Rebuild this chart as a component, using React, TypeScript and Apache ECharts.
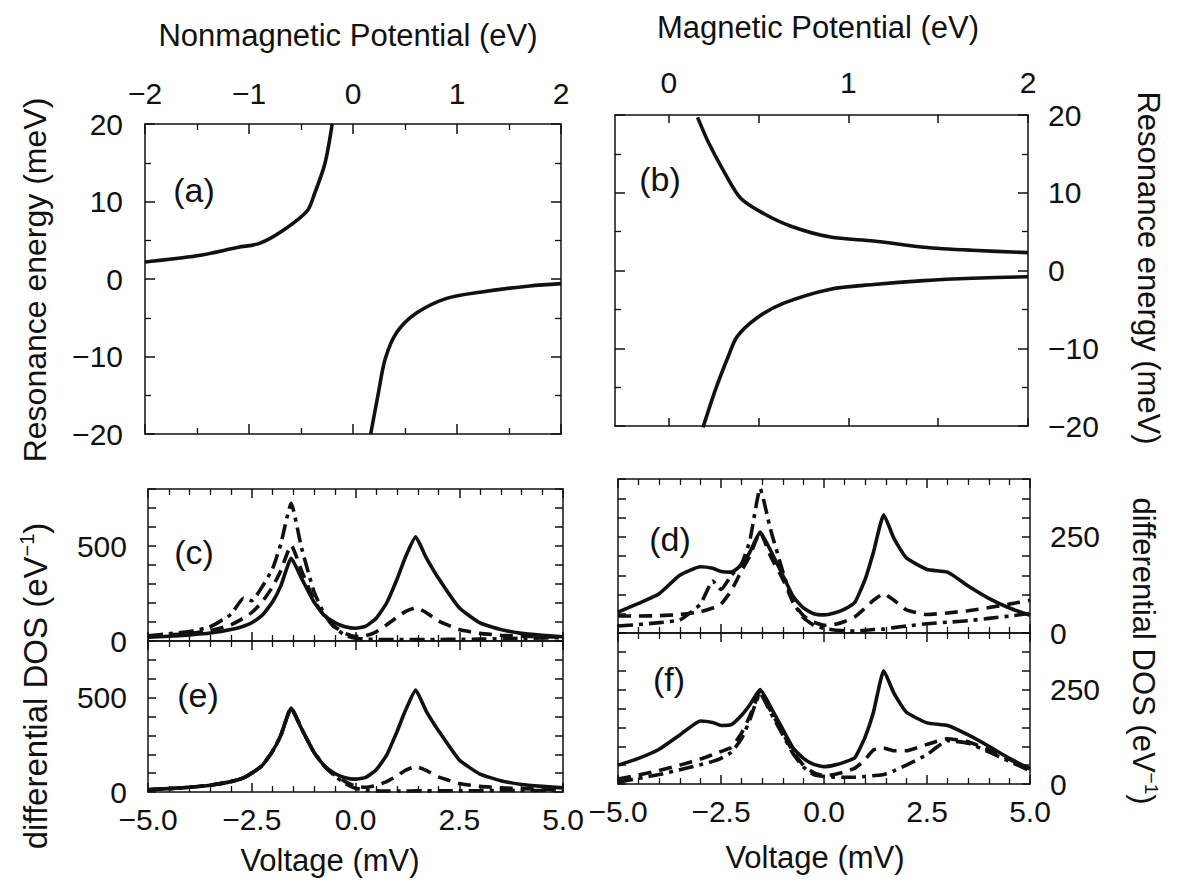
import React, { useEffect, useRef } from "react";
import * as echarts from "echarts";

// ---------- data ----------
// (a) nonmagnetic potential (eV) vs resonance energy (meV)
const A_UP_X = [-2, -1.5, -1.1, -0.9, -0.67, -0.44, -0.37, -0.27, -0.2];
const A_UP_Y = [2.2, 3.0, 4.1, 4.6, 6.3, 8.8, 11.0, 14.9, 20];
const A_LO_X = [0.17, 0.24, 0.31, 0.42, 0.61, 0.9, 1.22, 1.7, 2.0];
const A_LO_Y = [-20, -15, -10.3, -6.9, -4.4, -2.5, -1.7, -0.9, -0.6];
// (b) magnetic potential (eV) vs resonance energy (meV)
const B_UP_X = [0.16, 0.22, 0.31, 0.4, 0.53, 0.68, 0.9, 1.14, 1.42, 1.69, 2.0];
const B_UP_Y = [19.7, 16.5, 12.6, 9.3, 7.3, 5.7, 4.3, 3.8, 3.0, 2.6, 2.3];
const B_LO_X = [0.19, 0.26, 0.33, 0.38, 0.49, 0.64, 0.9, 1.14, 1.42, 1.69, 2.0];
const B_LO_Y = [-20.2, -15.3, -11.1, -8.5, -6.1, -4.2, -2.4, -1.8, -1.3, -1.0, -0.8];

// voltage grid (mV) for the differential DOS panels
const V = [-5, -4.5, -4, -3.5, -3, -2.7, -2.5, -2.25, -2, -1.8, -1.55, -1.3, -1, -0.75, -0.5, -0.25, 0, 0.25, 0.5, 0.75, 1, 1.2, 1.45, 1.7, 2, 2.5, 3, 3.5, 4, 4.5, 5];
// (c)
const C_SOLID = [20, 25, 32, 42, 60, 78, 96, 135, 205, 290, 435, 330, 205, 135, 97, 75, 67, 78, 120, 200, 325, 440, 548, 440, 330, 175, 95, 60, 40, 30, 22];
const C_DASH = [25, 32, 40, 55, 85, 120, 150, 205, 285, 370, 505, 370, 215, 130, 75, 40, 25, 28, 48, 85, 125, 155, 175, 150, 105, 60, 40, 30, 25, 22, 20];
const C_DASHDOT = [28, 38, 50, 75, 140, 225, 212, 285, 380, 510, 725, 490, 260, 140, 70, 30, 15, 10, 8, 7, 7, 7, 8, 8, 8, 9, 10, 12, 14, 16, 18];
// (e)
const E_SOLID = [12, 18, 25, 36, 55, 75, 100, 140, 215, 300, 445, 335, 210, 138, 98, 76, 68, 78, 118, 195, 320, 430, 540, 430, 325, 170, 95, 60, 40, 30, 22];
const E_DASH = [12, 18, 25, 36, 55, 75, 100, 140, 215, 300, 445, 335, 210, 138, 90, 55, 30, 25, 35, 55, 85, 115, 135, 115, 80, 45, 30, 22, 18, 15, 12];
const E_DASHDOT = [12, 18, 25, 36, 55, 75, 100, 140, 215, 300, 445, 335, 210, 138, 85, 45, 20, 10, 6, 5, 5, 5, 6, 6, 6, 7, 7, 8, 8, 8, 9];
// (d)
const D_SOLID = [54, 77, 102, 150, 172, 168, 160, 158, 177, 210, 262, 215, 150, 95, 65, 50, 47, 52, 62, 80, 140, 210, 307, 245, 195, 165, 158, 122, 90, 65, 46];
const D_DASH = [44, 44, 45, 48, 55, 65, 75, 110, 162, 200, 262, 200, 140, 80, 45, 28, 20, 22, 30, 42, 65, 85, 102, 85, 60, 48, 52, 58, 66, 75, 85];
const D_DASHDOT = [18, 22, 27, 34, 75, 135, 113, 150, 180, 240, 375, 270, 160, 80, 40, 20, 12, 8, 6, 5, 7, 9, 10, 14, 18, 24, 28, 32, 38, 44, 51];
// (f)
const F_SOLID = [50, 68, 92, 130, 167, 163, 155, 157, 182, 210, 250, 205, 145, 95, 68, 52, 46, 50, 58, 70, 125, 190, 300, 240, 190, 162, 155, 130, 100, 68, 40];
const F_DASH = [13, 24, 36, 50, 66, 78, 86, 97, 135, 180, 242, 195, 135, 85, 50, 30, 22, 25, 32, 42, 65, 90, 95, 88, 88, 105, 120, 112, 90, 65, 40];
const F_DASHDOT = [5, 15, 25, 38, 51, 60, 68, 84, 120, 170, 240, 190, 130, 80, 45, 25, 20, 18, 18, 18, 20, 22, 25, 35, 50, 78, 115, 108, 85, 60, 35];

// tick label lists
const B_TOP_LABELS = [0, 1, 2];
const B_TOP_TICKS = [0, 0.5, 1, 1.5, 2];
const CE_Y_LABELS = [0, 500];
const DF_Y_LABELS = [0, 250];

// ---------- styling ----------
const FONT = '"Liberation Sans", Arial, Helvetica, sans-serif';
const FS = 30;
const INK = "#111";
const LW = 3.6;
const DASH = [13, 8];
const DASHDOT = [15, 6, 4, 6];

const minus = (s: string) => s.replace("-", "\u2212");

function pairs(xs: number[], ys: number[]) {
  return xs.map((x, i) => [x, ys[i]]);
}

function axisBase(extra: any) {
  const base: any = {
    type: "value",
    axisLine: { show: true, onZero: false, lineStyle: { color: INK, width: 1.5 } },
    axisTick: { show: true, inside: true, length: 10, lineStyle: { color: INK, width: 1.5 } },
    minorTick: { show: false },
    splitLine: { show: false },
    minorSplitLine: { show: false },
    axisLabel: { show: false, color: INK, fontFamily: FONT, fontSize: FS },
  };
  const out: any = { ...base, ...extra };
  out.axisLine = { ...base.axisLine, ...(extra.axisLine || {}) };
  out.axisTick = { ...base.axisTick, ...(extra.axisTick || {}) };
  out.axisLabel = { ...base.axisLabel, ...(extra.axisLabel || {}) };
  return out;
}

function minor(n: number) {
  return { show: true, splitNumber: n, length: 6, lineStyle: { color: INK, width: 1.3 } };
}

function lineSeries(g: number, data: number[][], type: any, smooth: number | boolean) {
  return {
    type: "line",
    xAxisIndex: 2 * g,
    yAxisIndex: 2 * g,
    data,
    showSymbol: false,
    symbol: "none",
    smooth,
    clip: true,
    lineStyle: { color: INK, width: LW, type, cap: "butt", join: "round" },
    silent: true,
  };
}

export default function App() {
  const ref = useRef<HTMLDivElement>(null);
  useEffect(() => {
    const chart = echarts.init(ref.current!, null, { renderer: "svg" });

    const grids = [
      { left: 145, top: 124, width: 416, height: 310 }, // a
      { left: 615, top: 115, width: 413, height: 311 }, // b
      { left: 148, top: 489, width: 415, height: 152 }, // c
      { left: 618, top: 479, width: 412, height: 154 }, // d
      { left: 148, top: 641, width: 415, height: 151 }, // e
      { left: 618, top: 633, width: 412, height: 151 }, // f
    ];

    const xAxes: any[] = [];
    const yAxes: any[] = [];

    // (a)
    xAxes.push(axisBase({ gridIndex: 0, position: "bottom", min: -2, max: 2, interval: 1, minorTick: minor(2) }));
    xAxes.push(
      axisBase({
        gridIndex: 0, position: "top", min: -2, max: 2, interval: 1, minorTick: minor(2),
        axisLabel: { show: true, margin: 16, formatter: (v: number) => minus(String(v)) },
      })
    );
    yAxes.push(
      axisBase({
        gridIndex: 0, position: "left", min: -20, max: 20, interval: 10, minorTick: minor(2),
        axisLabel: { show: true, margin: 22, formatter: (v: number) => minus(String(v)) },
      })
    );
    yAxes.push(axisBase({ gridIndex: 0, position: "right", min: -20, max: 20, interval: 10, minorTick: minor(2) }));

    // (b)
    xAxes.push(
      axisBase({
        gridIndex: 1, position: "bottom", min: -0.3, max: 2,
        axisTick: { customValues: B_TOP_TICKS, length: 8 },
      })
    );
    xAxes.push(
      axisBase({
        gridIndex: 1, position: "top", min: -0.3, max: 2,
        axisTick: { customValues: B_TOP_TICKS, length: 8 },
        axisLabel: { show: true, margin: 18, customValues: B_TOP_LABELS, formatter: (v: number) => String(v) },
      })
    );
    yAxes.push(axisBase({ gridIndex: 1, position: "left", min: -20, max: 20, interval: 10, minorTick: minor(2) }));
    yAxes.push(
      axisBase({
        gridIndex: 1, position: "right", min: -20, max: 20, interval: 10, minorTick: minor(2),
        axisLabel: { show: true, margin: 20, formatter: (v: number) => minus(String(v)) },
      })
    );

    // (c), (d), (e), (f)
    const dosPanels = [
      { g: 2, ymax: 800, yint: 100, labels: CE_Y_LABELS, side: "left", xlab: false },
      { g: 3, ymax: 400, yint: 50, labels: DF_Y_LABELS, side: "right", xlab: false },
      { g: 4, ymax: 800, yint: 100, labels: CE_Y_LABELS, side: "left", xlab: true },
      { g: 5, ymax: 400, yint: 50, labels: DF_Y_LABELS, side: "right", xlab: true },
    ];
    dosPanels.forEach((p) => {
      xAxes.push(
        axisBase({
          gridIndex: p.g, position: "bottom", min: -5, max: 5, interval: 2.5, minorTick: minor(5),
          axisTick: { length: 9 },
          axisLabel: {
            show: p.xlab, margin: 12,
            formatter: (v: number) => minus(v.toFixed(1)),
          },
        })
      );
      xAxes.push(
        axisBase({ gridIndex: p.g, position: "top", min: -5, max: 5, interval: 2.5, minorTick: minor(5), axisTick: { length: 9 } })
      );
      const fmt = (v: number) => (p.labels.indexOf(v) >= 0 ? String(v) : "");
      yAxes.push(
        axisBase({
          gridIndex: p.g, position: "left", min: 0, max: p.ymax, interval: p.yint, axisTick: { length: 8 },
          axisLabel: { show: p.side === "left", margin: 21, formatter: fmt },
        })
      );
      yAxes.push(
        axisBase({
          gridIndex: p.g, position: "right", min: 0, max: p.ymax, interval: p.yint, axisTick: { length: 8 },
          axisLabel: { show: p.side === "right", margin: 20, formatter: fmt },
        })
      );
    });

    const S1 = 0.3;
    const S2 = 0.15;
    const series: any[] = [
      lineSeries(0, pairs(A_UP_X, A_UP_Y), "solid", S1),
      lineSeries(0, pairs(A_LO_X, A_LO_Y), "solid", S1),
      lineSeries(1, pairs(B_UP_X, B_UP_Y), "solid", S1),
      lineSeries(1, pairs(B_LO_X, B_LO_Y), "solid", S1),
      lineSeries(2, pairs(V, C_DASHDOT), DASHDOT, S2),
      lineSeries(2, pairs(V, C_DASH), DASH, S2),
      lineSeries(2, pairs(V, C_SOLID), "solid", S2),
      lineSeries(3, pairs(V, D_DASHDOT), DASHDOT, S2),
      lineSeries(3, pairs(V, D_DASH), DASH, S2),
      lineSeries(3, pairs(V, D_SOLID), "solid", S2),
      lineSeries(4, pairs(V, E_DASHDOT), DASHDOT, S2),
      lineSeries(4, pairs(V, E_DASH), DASH, S2),
      lineSeries(4, pairs(V, E_SOLID), "solid", S2),
      lineSeries(5, pairs(V, F_DASHDOT), DASHDOT, S2),
      lineSeries(5, pairs(V, F_DASH), DASH, S2),
      lineSeries(5, pairs(V, F_SOLID), "solid", S2),
    ];

    const txt = (x: number, y: number, text: string, size: number, rotation = 0, extra: any = {}) => ({
      type: "text",
      x,
      y,
      rotation,
      silent: true,
      style: {
        text,
        fill: INK,
        font: `${size}px ${FONT}`,
        textAlign: "center",
        textVerticalAlign: "middle",
        ...extra,
      },
    });

    const supRich = (fs: number) => ({
      a: { fontSize: fs, fontFamily: FONT, fill: INK, color: INK },
      s: { fontSize: Math.round(fs * 0.62), fontFamily: FONT, fill: INK, color: INK, padding: [0, 0, 16, 0] },
    });

    const graphic: any[] = [
      txt(348, 35, "Nonmagnetic Potential (eV)", 31),
      txt(818, 27, "Magnetic Potential (eV)", 31),
      txt(35, 280, "Resonance energy (meV)", 32, Math.PI / 2),
      txt(1148, 268, "Resonance energy (meV)", 31, -Math.PI / 2),
      txt(35, 686, "{a|differential DOS (eV}{s|\u22121}{a|)}", 33, Math.PI / 2, { rich: supRich(33) }),
      txt(1143, 651, "{a|differential DOS (eV}{s|\u22121}{a|)}", 31, -Math.PI / 2, { rich: supRich(31) }),
      txt(330, 860, "Voltage (mV)", 31),
      txt(815, 857, "Voltage (mV)", 31),
      txt(194, 190, "(a)", 34),
      txt(660, 179, "(b)", 34),
      txt(194, 552, "(c)", 34),
      txt(670, 539, "(d)", 34),
      txt(198, 695, "(e)", 34),
      txt(669, 679, "(f)", 34),
    ];

    chart.setOption({
      animation: false,
      backgroundColor: "#fff",
      grid: grids.map((g) => ({ ...g, containLabel: false })),
      xAxis: xAxes,
      yAxis: yAxes,
      series,
      graphic,
    });
    return () => chart.dispose();
  }, []);

  return (
    <div
      ref={ref}
      style={{ position: "absolute", left: 0, top: 0, width: 1177, height: 888, background: "#fff" }}
    />
  );
}
